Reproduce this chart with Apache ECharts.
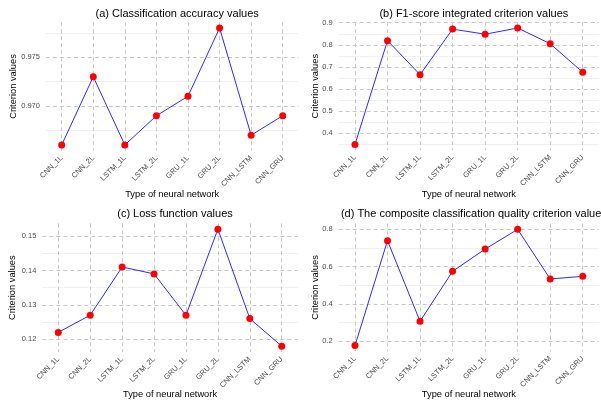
<!DOCTYPE html>
<html>
<head>
<meta charset="utf-8">
<script src="https://cdn.jsdelivr.net/npm/echarts@6/dist/echarts.min.js"></script>
<style>html,body{margin:0;padding:0;background:#fff}#c{width:601px;height:405px}</style>
</head>
<body>
<div id="c"></div>
<script>
var categories = ['CNN_1L','CNN_2L','LSTM_1L','LSTM_2L','GRU_1L','GRU_2L','CNN_LSTM','CNN_GRU'];
var accuracy = [0.966, 0.973, 0.966, 0.969, 0.971, 0.978, 0.967, 0.969];
var f1score = [0.350, 0.819, 0.665, 0.871, 0.848, 0.876, 0.805, 0.676];
var loss = [0.122, 0.127, 0.141, 0.139, 0.127, 0.152, 0.126, 0.118];
var composite = [0.177, 0.739, 0.307, 0.575, 0.694, 0.800, 0.534, 0.548];
var titles = ['(a) Classification accuracy values','(b) F1-score integrated criterion values','(c) Loss function values','(d) The composite classification quality criterion values'];
var majorA = [0.970, 0.975], minorA = [0.9675, 0.9725, 0.9775];
var majorB = [0.4, 0.5, 0.6, 0.7, 0.8, 0.9], minorB = [0.35, 0.45, 0.55, 0.65, 0.75, 0.85];
var majorC = [0.12, 0.13, 0.14, 0.15], minorC = [0.125, 0.135, 0.145];
var majorD = [0.2, 0.4, 0.6, 0.8], minorD = [0.3, 0.5, 0.7];
var decimals = [3, 1, 2, 1];

var FONT = '"Liberation Sans", Arial, sans-serif';
var panels = [
  {vals: accuracy, major: majorA, minor: minorA, box: {left: 45.9, top: 22.2, width: 252.6, height: 128.6}, yGap: 28, xGap: 39.5, tTop: 3},
  {vals: f1score, major: majorB, minor: minorB, box: {left: 338.7, top: 22.2, width: 260.3, height: 128.0}, yGap: 19, xGap: 40, tTop: 3},
  {vals: loss, major: majorC, minor: minorC, box: {left: 42.3, top: 223.3, width: 255.4, height: 128.7}, yGap: 25, xGap: 38.3, tTop: 203},
  {vals: composite, major: majorD, minor: minorD, box: {left: 338.7, top: 223.5, width: 260.3, height: 127.9}, yGap: 19, xGap: 38.9, tTop: 203}
];
var grids = [], xAxes = [], yAxes = [], series = [], titleOpts = [];
panels.forEach(function (p, i) {
  var lo = Math.min.apply(null, p.vals), hi = Math.max.apply(null, p.vals);
  var pad = (hi - lo) * 0.05;
  var mn = lo - pad, mx = hi + pad;
  grids.push({left: p.box.left, top: p.box.top, width: p.box.width, height: p.box.height, containLabel: false});
  titleOpts.push({text: titles[i], left: p.box.left + p.box.width / 2, top: p.tTop, textAlign: 'center',
    textStyle: {fontFamily: FONT, fontSize: 11, fontWeight: 'normal', color: '#000'}});
  xAxes.push({type: 'category', gridIndex: i, data: categories, boundaryGap: true,
    name: 'Type of neural network', nameLocation: 'middle', nameGap: p.xGap, nameMoveOverlap: false,
    nameTextStyle: {fontFamily: FONT, fontSize: 9.3, color: '#000'},
    axisLine: {show: false}, axisTick: {show: false, alignWithLabel: true},
    axisLabel: {rotate: 45, fontFamily: FONT, fontSize: 7.5, color: '#4d4d4d', margin: 6, interval: 0},
    splitLine: {show: true, alignWithLabel: true, lineStyle: {color: '#c8c8c8', type: [4, 3], width: 1}}});
  var dec = decimals[i];
  yAxes.push({type: 'value', gridIndex: i, min: mn, max: mx,
    name: 'Criterion values', nameLocation: 'middle', nameGap: p.yGap, nameMoveOverlap: false,
    nameTextStyle: {fontFamily: FONT, fontSize: 9.3, color: '#000'},
    axisLine: {show: false}, axisTick: {show: false, customValues: p.major},
    axisLabel: {customValues: p.major, fontFamily: FONT, fontSize: 7.5, color: '#4d4d4d', margin: 6,
      formatter: function (v) { return v.toFixed(dec); }},
    splitLine: {show: true, lineStyle: {color: '#c8c8c8', type: [4, 3], width: 1}}});
  yAxes.push({type: 'value', gridIndex: i, min: mn, max: mx, z: 0,
    axisLine: {show: false}, axisTick: {show: false, customValues: p.minor},
    axisLabel: {show: false, customValues: p.minor},
    splitLine: {show: true, lineStyle: {color: '#f0f0f0', type: 'solid', width: 1}}});
  series.push({type: 'line', xAxisIndex: i, yAxisIndex: 2 * i, data: p.vals,
    lineStyle: {color: '#2a2aff', width: 1}, itemStyle: {color: '#ff0000'},
    symbol: 'circle', symbolSize: 7, showSymbol: true, animation: false, z: 5});
});
var chart = echarts.init(document.getElementById('c'), null, {renderer: 'canvas'});
chart.setOption({backgroundColor: '#fff', animation: false, title: titleOpts, grid: grids,
  xAxis: xAxes, yAxis: yAxes, series: series});
</script>
</body>
</html>
